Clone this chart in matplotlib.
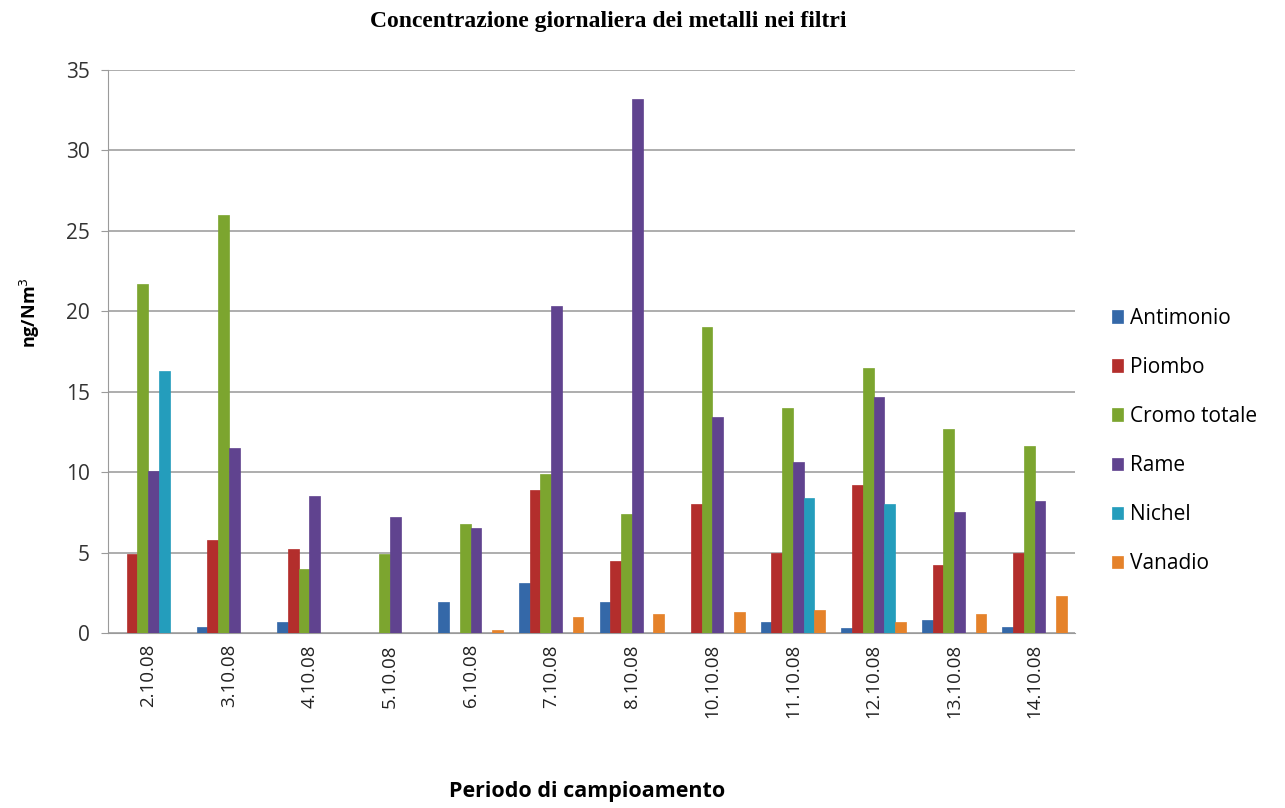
import matplotlib.pyplot as plt
import numpy as np

# Sampling days and metal concentrations (ng/Nm3)
dates = ["2.10.08", "3.10.08", "4.10.08", "5.10.08", "6.10.08", "7.10.08",
         "8.10.08", "10.10.08", "11.10.08", "12.10.08", "13.10.08", "14.10.08"]
antimonio = [0.0, 0.4, 0.7, 0.0, 1.9, 3.1, 1.9, 0.0, 0.7, 0.3, 0.8, 0.4]
piombo = [4.9, 5.8, 5.2, 0.0, 0.0, 8.9, 4.5, 8.0, 5.0, 9.2, 4.2, 5.0]
cromo = [21.7, 26.0, 4.0, 4.9, 6.8, 9.9, 7.4, 19.0, 14.0, 16.5, 12.7, 11.6]
rame = [10.1, 11.5, 8.5, 7.2, 6.5, 20.3, 33.2, 13.4, 10.6, 14.7, 7.5, 8.2]
nichel = [16.3, 0.0, 0.0, 0.0, 0.0, 0.0, 0.0, 0.0, 8.4, 8.0, 0.0, 0.0]
vanadio = [0.0, 0.0, 0.0, 0.0, 0.2, 1.0, 1.2, 1.3, 1.4, 0.7, 1.2, 2.3]

series = [("Antimonio", antimonio, "#3468a8"),
          ("Piombo", piombo, "#b32e2c"),
          ("Cromo totale", cromo, "#7ca52f"),
          ("Rame", rame, "#60438f"),
          ("Nichel", nichel, "#249dbc"),
          ("Vanadio", vanadio, "#e5822a")]

fig = plt.figure(figsize=(12.85, 8.08), dpi=100)
ax = fig.add_axes([0.084, 0.2166, 0.7526, 0.6968])

x = np.arange(len(dates))
w = 1 / 7.5
for i, (name, vals, col) in enumerate(series):
    ax.bar(x + (i - 2.5) * w, vals, width=w, color=col, label=name,
           edgecolor=col, linewidth=0.5, zorder=3)

ax.set_xlim(-0.5, len(dates) - 0.5)
ax.set_ylim(0, 35)
ax.set_yticks(range(0, 36, 5))
ax.yaxis.grid(True, color="#a0a0a0", linewidth=1.2, zorder=0)
for s in ["top", "right"]:
    ax.spines[s].set_visible(False)
ax.spines["left"].set_color("#9a9a9a")
ax.spines["bottom"].set_color("#9a9a9a")
ax.tick_params(axis="y", colors="#9a9a9a", labelcolor="#333333",
               labelsize=15, length=5, pad=8)
ax.tick_params(axis="x", length=0, pad=8, labelsize=13.5, labelcolor="#222222")
ax.set_xticks(x)
ax.set_xticklabels(dates, rotation=90, family="Open Sans")
for lbl in ax.get_yticklabels():
    lbl.set_family("Open Sans")

ax.set_ylabel("ng/Nm$^3$", fontsize=13, fontweight="bold", family="Open Sans")
ax.yaxis.set_label_coords(-0.068, 0.57)
fig.text(0.457, 0.02, "Periodo di campioamento", ha="center", va="center",
         fontsize=15.5, fontweight="bold", family="Open Sans")
fig.text(0.473, 0.973, "Concentrazione giornaliera dei metalli nei filtri",
         ha="center", va="center", fontsize=17, fontweight="bold",
         family="Liberation Serif")

ax.legend(loc="center left", bbox_to_anchor=(0.857, 0.454),
          bbox_transform=fig.transFigure, frameon=False,
          prop={"family": "Open Sans", "size": 15},
          handlelength=0.55, handleheight=0.55, handletextpad=0.35,
          labelspacing=1.35, borderpad=0)

fig.savefig("out.png", dpi=100, facecolor="white")
